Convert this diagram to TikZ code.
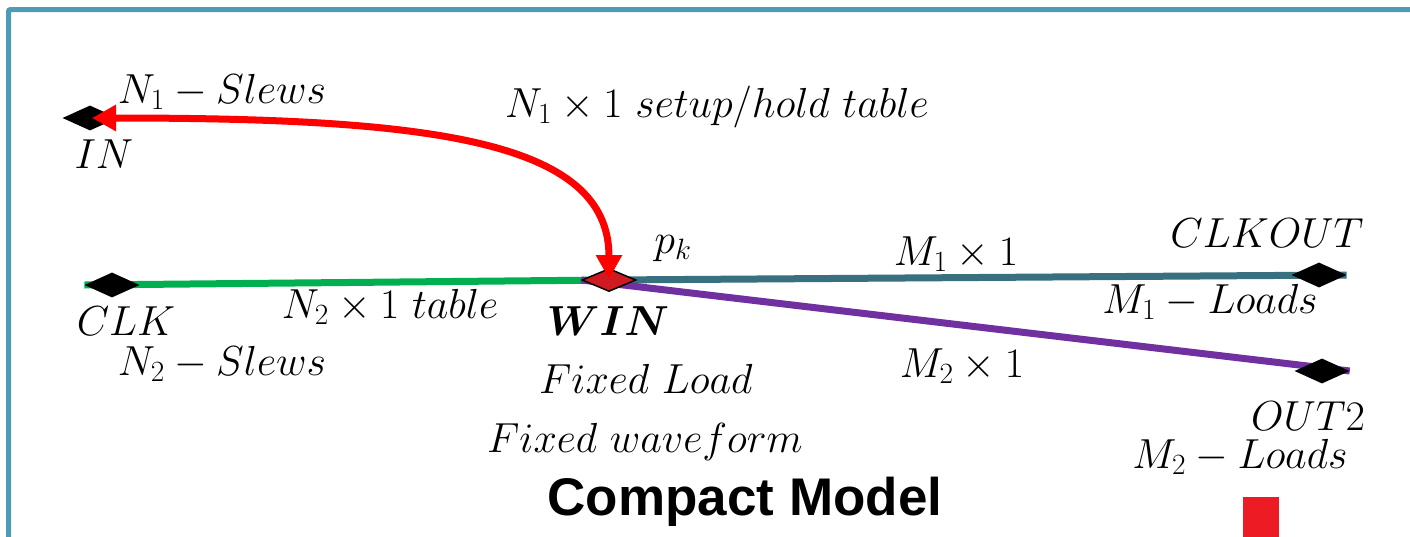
\RequirePackage{fix-cm}
\documentclass[tikz,border=0pt]{standalone}
\usepackage{amsmath}
\usepackage{fontspec}
\setsansfont{Liberation Sans}
\usetikzlibrary{shapes.geometric,arrows.meta}
\definecolor{frame}{HTML}{4E9BB5}
\definecolor{arrowred}{HTML}{FF0000}
\definecolor{wiregreen}{HTML}{00B050}
\definecolor{wireteal}{HTML}{38707F}
\definecolor{wirepurple}{HTML}{7030A0}
\definecolor{winred}{HTML}{D01A22}
\definecolor{markred}{HTML}{ED1C24}
\tikzset{
  pin/.style={shape=diamond, fill=black, draw=none, inner sep=0pt, minimum width=55pt, minimum height=25pt},
  winpin/.style={shape=diamond, fill=winred, draw=black, line width=1.5pt, inner sep=0pt, minimum width=54pt, minimum height=23pt},
  lbl/.style={anchor=base, inner sep=0pt, font=\fontsize{42}{50}\selectfont},
  wire/.style={line width=7pt},
  title/.style={anchor=base, inner sep=0pt, font=\fontsize{53}{60}\selectfont\sffamily\bfseries},
}
\begin{document}
\begin{tikzpicture}[x=1pt,y=-1pt]
\useasboundingbox (0,0) rectangle (1410,536);
\fill[white] (0,0) rectangle (1410,536);
% frame
\coordinate (fbl) at (8.5,540);
\coordinate (ftl) at (8.5,9.5);
\coordinate (ftr) at (1414,9.5);
\draw[frame, line width=5pt, rounded corners=2pt] (fbl) -- (ftl) -- (ftr);

% node positions
\coordinate (INc) at (90,118);
\coordinate (CLKc) at (112,285);
\coordinate (WINc) at (609,280);
\coordinate (CLKOUTc) at (1319,275);
\coordinate (OUT2c) at (1322,371);

% wires (behind the pins)
\node[pin, opacity=0] (CLKp0) at (CLKc) {};
\node[pin, opacity=0] (CLKOUTp0) at (CLKOUTc) {};
\node[pin, opacity=0] (OUT2p0) at (OUT2c) {};
\node[winpin, opacity=0] (WINp0) at (WINc) {};
\draw[wire, wiregreen] (CLKp0.west) -- (WINp0.center);
\draw[wire, wireteal] (WINp0.center) -- (CLKOUTp0.east);
\draw[wire, wirepurple] (WINp0.west) -- (OUT2p0.east);

% pins
\node[pin] (IN) at (INc) {};
\node[pin] (CLK) at (CLKc) {};
\node[pin] (CLKOUT) at (CLKOUTc) {};
\node[pin] (OUT2) at (OUT2c) {};
\node[winpin] (WIN) at (WINc) {};

% red double arrow
\draw[arrowred, line width=7pt, {Triangle[length=24pt,width=25pt]}-{Triangle[length=24pt,width=25pt]}]
  ([xshift=2pt]IN.center) .. controls (430,118) and (609,140) .. ([yshift=1pt]WIN.center);

% labels
\node[lbl] (lN1s) at (222,103) {$N_1 - Slews$};
\node[lbl] (lIN) at (104,168) {$IN$};
\node[lbl] (ltab1) at (717,117) {$N_1 \times 1\ setup/hold\ table$};
\node[lbl] (lpk) at (673,253) {$p_k$};
\node[lbl] (lM1) at (956,265) {$M_1 \times 1$};
\node[lbl] (lCLKOUT) at (1267,247) {$CLKOUT$};
\node[lbl] (lM1L) at (1210,313) {$M_1 - Loads$};
\node[lbl] (lCLK) at (126,335) {$CLK$};
\node[lbl] (ltab2) at (390,318) {$N_2 \times 1\ table$};
\node[lbl] (lN2s) at (222,375) {$N_2 - Slews$};
\node[lbl] (lWIN) at (608,335) {$\boldsymbol{WIN}$};
\node[lbl] (lFL) at (646,393) {$Fixed\ Load$};
\node[lbl] (lM2) at (962,377) {$M_2 \times 1$};
\node[lbl] (lOUT2) at (1308,430) {$OUT2$};
\node[lbl] (lM2L) at (1240,468) {$M_2 - Loads$};
\node[lbl] (lFW) at (645,452) {$Fixed\ waveform$};
\node[title] (ltitle) at (745,515) {Compact Model};

% red square
\node[fill=markred, draw=none, inner sep=0pt, minimum width=36pt, minimum height=40pt, anchor=north west] (sq) at (1243,497) {};
\end{tikzpicture}
\end{document}
